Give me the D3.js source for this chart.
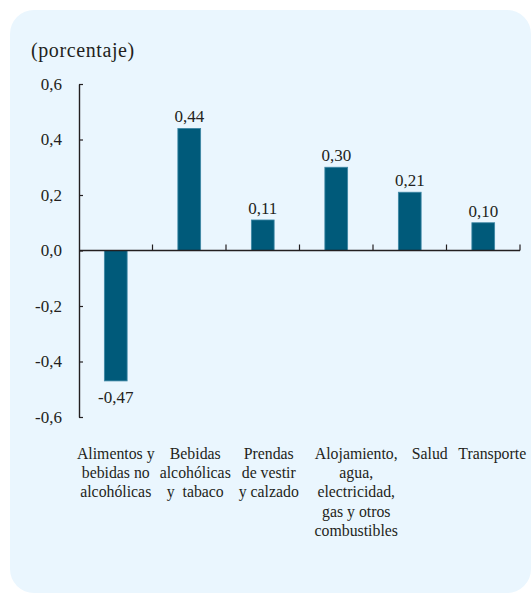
<!DOCTYPE html>
<html>
<head>
<meta charset="utf-8">
<script src="https://cdn.jsdelivr.net/npm/d3@7"></script>
<style>
  body { margin: 0; background: #ffffff; }
</style>
</head>
<body>
<div id="chart"></div>
<script>

// categories (one array of lines per label)
var categories = [
	["Alimentos y", "bebidas no", "alcohólicas"],
	["Bebidas", "alcohólicas", "y  tabaco"],
	["Prendas", "de vestir", "y calzado"],
	["Alojamiento,", "agua,", "electricidad,", "gas y otros", "combustibles"],
	["Salud"],
	["Transporte"]
];

// series values
var values = [-0.47, 0.44, 0.11, 0.30, 0.21, 0.10];

// y tick values
var yTicks = [-0.6, -0.4, -0.2, 0.0, 0.2, 0.4, 0.6];

var unitLabel = "(porcentaje)";

// layout: small nudge of each category label (the labels are not centred on the bars)
var labelNudge = [0, 6, 6, 20, 20, 9];


var W = 532, H = 594;
var margin = { top: 84, left: 79, right: 12, bottom: 177 };
var width = W - margin.left - margin.right,
	height = H - margin.top - margin.bottom;

var FONT = "'Liberation Serif'";
var INK = "#231f20";

var comma = function(d, n) { return d.toFixed(n).replace(".", ","); };

var svg = d3.select("#chart").append("svg")
		.attr("width", W)
		.attr("height", H);

// panel
svg.append("rect")
		.attr("x", 10)
		.attr("y", 10)
		.attr("width", 521)
		.attr("height", 583)
		.attr("rx", 24)
		.attr("fill", "#eaf6fe");

svg.append("text")
		.attr("x", 31)
		.attr("y", 57)
		.style("font-family", FONT)
		.attr("font-size", 20)
		.attr("letter-spacing", 0.6)
		.attr("fill", INK)
		.text(unitLabel);

var g = svg.append("g")
		.attr("transform", "translate(" + margin.left + "," + margin.top + ")");

// scales
var x = d3.scaleBand()
		.domain(d3.range(categories.length))
		.range([0, width])
		.padding(0);

var y = d3.scaleLinear()
		.domain([-0.6, 0.6])
		.range([height, 0]);

var barW = x.bandwidth() * 0.31;

// y axis
var yAxis = d3.axisLeft(y)
		.tickValues(yTicks)
		.tickSizeInner(-4)
		.tickSizeOuter(0)
		.tickPadding(17)
		.tickFormat(function(d) { return comma(d, 1); });

var yG = g.append("g").attr("class", "y-axis").call(yAxis);
yG.attr("font-family", null).attr("font-size", null);
yG.select(".domain").attr("stroke", INK).attr("stroke-width", 1.4);
yG.selectAll(".tick line").attr("stroke", INK).attr("stroke-width", 1.2);
yG.selectAll(".tick text")
		.style("font-family", FONT)
		.attr("font-size", 17)
		.attr("fill", INK);

// bars
g.selectAll(".bar")
		.data(values)
	.enter().append("rect")
		.attr("class", "bar")
		.attr("x", function(d, i) { return x(i) + (x.bandwidth() - barW) / 2; })
		.attr("y", function(d) { return y(Math.max(0, d)); })
		.attr("width", barW)
		.attr("height", function(d) { return Math.abs(y(d) - y(0)); })
		.attr("fill", "#005a7a")
		.attr("stroke", "#3f88a6")
		.attr("stroke-width", 0.8);

// x axis line at zero with boundary ticks pointing up
var boundaries = d3.range(1, categories.length).map(function(i) { return x(i); })
		.concat([x.range()[1]]);

g.append("line")
		.attr("x1", 0)
		.attr("x2", x.range()[1])
		.attr("y1", y(0))
		.attr("y2", y(0))
		.attr("stroke", INK)
		.attr("stroke-width", 1.4);

g.selectAll(".x-tick")
		.data(boundaries)
	.enter().append("line")
		.attr("class", "x-tick")
		.attr("x1", function(d) { return d; })
		.attr("x2", function(d) { return d; })
		.attr("y1", y(0))
		.attr("y2", y(0) - 6)
		.attr("stroke", INK)
		.attr("stroke-width", 1.2);

// value labels
g.selectAll(".bar-label")
		.data(values)
	.enter().append("text")
		.attr("class", "bar-label")
		.attr("text-anchor", "middle")
		.style("font-family", FONT)
		.attr("font-size", 17)
		.attr("fill", INK)
		.attr("x", function(d, i) { return x(i) + x.bandwidth() / 2; })
		.attr("y", function(d) { return d >= 0 ? y(d) - 6 : y(d) + 22; })
		.text(function(d) { return comma(d, 2); });

// category labels
var catLabels = g.selectAll(".cat-label")
		.data(categories)
	.enter().append("text")
		.attr("class", "cat-label")
		.attr("text-anchor", "middle")
		.style("font-family", FONT)
		.attr("font-size", 15.8)
		.attr("xml:space", "preserve")
		.attr("fill", INK)
		.attr("transform", function(d, i) {
			return "translate(" + (x(i) + x.bandwidth() / 2 + labelNudge[i]) + "," + (height + 42) + ")";
		});

catLabels.selectAll("tspan")
		.data(function(d) { return d; })
	.enter().append("tspan")
		.attr("x", 0)
		.attr("y", function(d, j) { return j * 19.2; })
		.text(function(d) { return d; });

</script>
</body>
</html>
